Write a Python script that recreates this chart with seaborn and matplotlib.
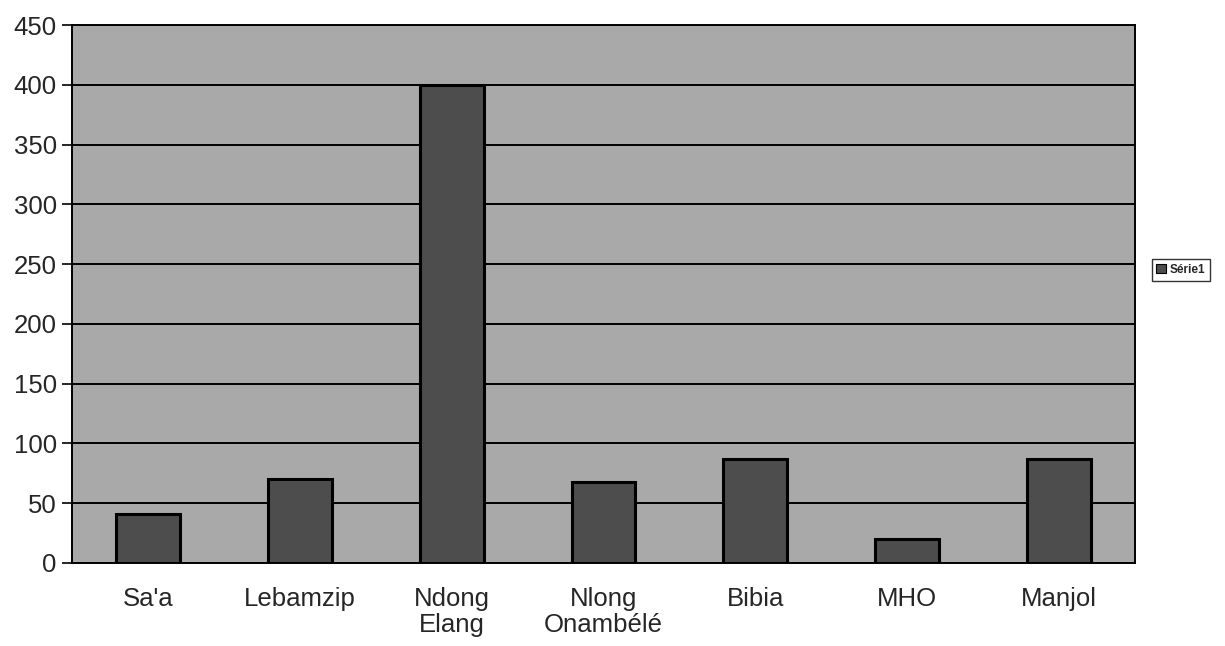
import matplotlib
matplotlib.use("Agg")
import matplotlib.pyplot as plt
import seaborn as sns
import pandas as pd
from matplotlib.patches import Patch

categories = ["Sa'a", "Lebamzip", "Ndong\nElang", "Nlong\nOnambélé", "Bibia", "MHO", "Manjol"]
values = [41, 70, 400, 68, 87, 20, 87]
series_name = "Série1"
y_ticks = [0, 50, 100, 150, 200, 250, 300, 350, 400, 450]

sns.set_style("white")
plt.rcParams["font.family"] = ["Liberation Sans", "DejaVu Sans"]

df = pd.DataFrame({"site": categories, "value": values})

fig = plt.figure(figsize=(12.25, 6.46), dpi=100)
ax = fig.add_axes([0.0588, 0.1285, 0.8677, 0.8328])
ax.set_facecolor("#a9a9a9")

sns.barplot(data=df, x="site", y="value", ax=ax, color="#4d4d4d",
            width=0.42, edgecolor="black", linewidth=2.2, saturation=1)

ax.set_ylim(0, 450)
ax.set_xlim(-0.5, len(categories) - 0.5)
ax.set_yticks(y_ticks)
ax.yaxis.grid(True, color="black", linewidth=1.4)
ax.set_axisbelow(True)

# category boundaries carry the x tick marks, labels sit under the bars
ax.set_xticks([i - 0.5 for i in range(len(categories) + 1)], minor=True)
ax.tick_params(axis="x", which="minor", length=8, width=1.2, color="black", direction="out")
ax.tick_params(axis="x", which="major", length=0, pad=17, labelsize=18.5)
ax.tick_params(axis="y", length=7, width=1.2, color="black", direction="out",
               labelsize=18.5, pad=4, left=True)
for lbl in ax.get_xticklabels():
    lbl.set_linespacing(1.15)
ax.set_xlabel("")
ax.set_ylabel("")

for side in ["left", "bottom", "top", "right"]:
    ax.spines[side].set_color("black")
    ax.spines[side].set_linewidth(1.4)

handle = Patch(facecolor="#4d4d4d", edgecolor="black", linewidth=0.8)
leg = fig.legend([handle], [series_name], loc="center left",
                 bbox_to_anchor=(0.940, 0.582), frameon=True, fancybox=False,
                 prop={"size": 8.5, "weight": "bold"}, handlelength=0.8,
                 handleheight=0.8, handletextpad=0.3, borderpad=0.4,
                 borderaxespad=0)
leg.get_frame().set_edgecolor("black")
leg.get_frame().set_linewidth(1.0)

fig.savefig("out.png", dpi=100, facecolor="white")
